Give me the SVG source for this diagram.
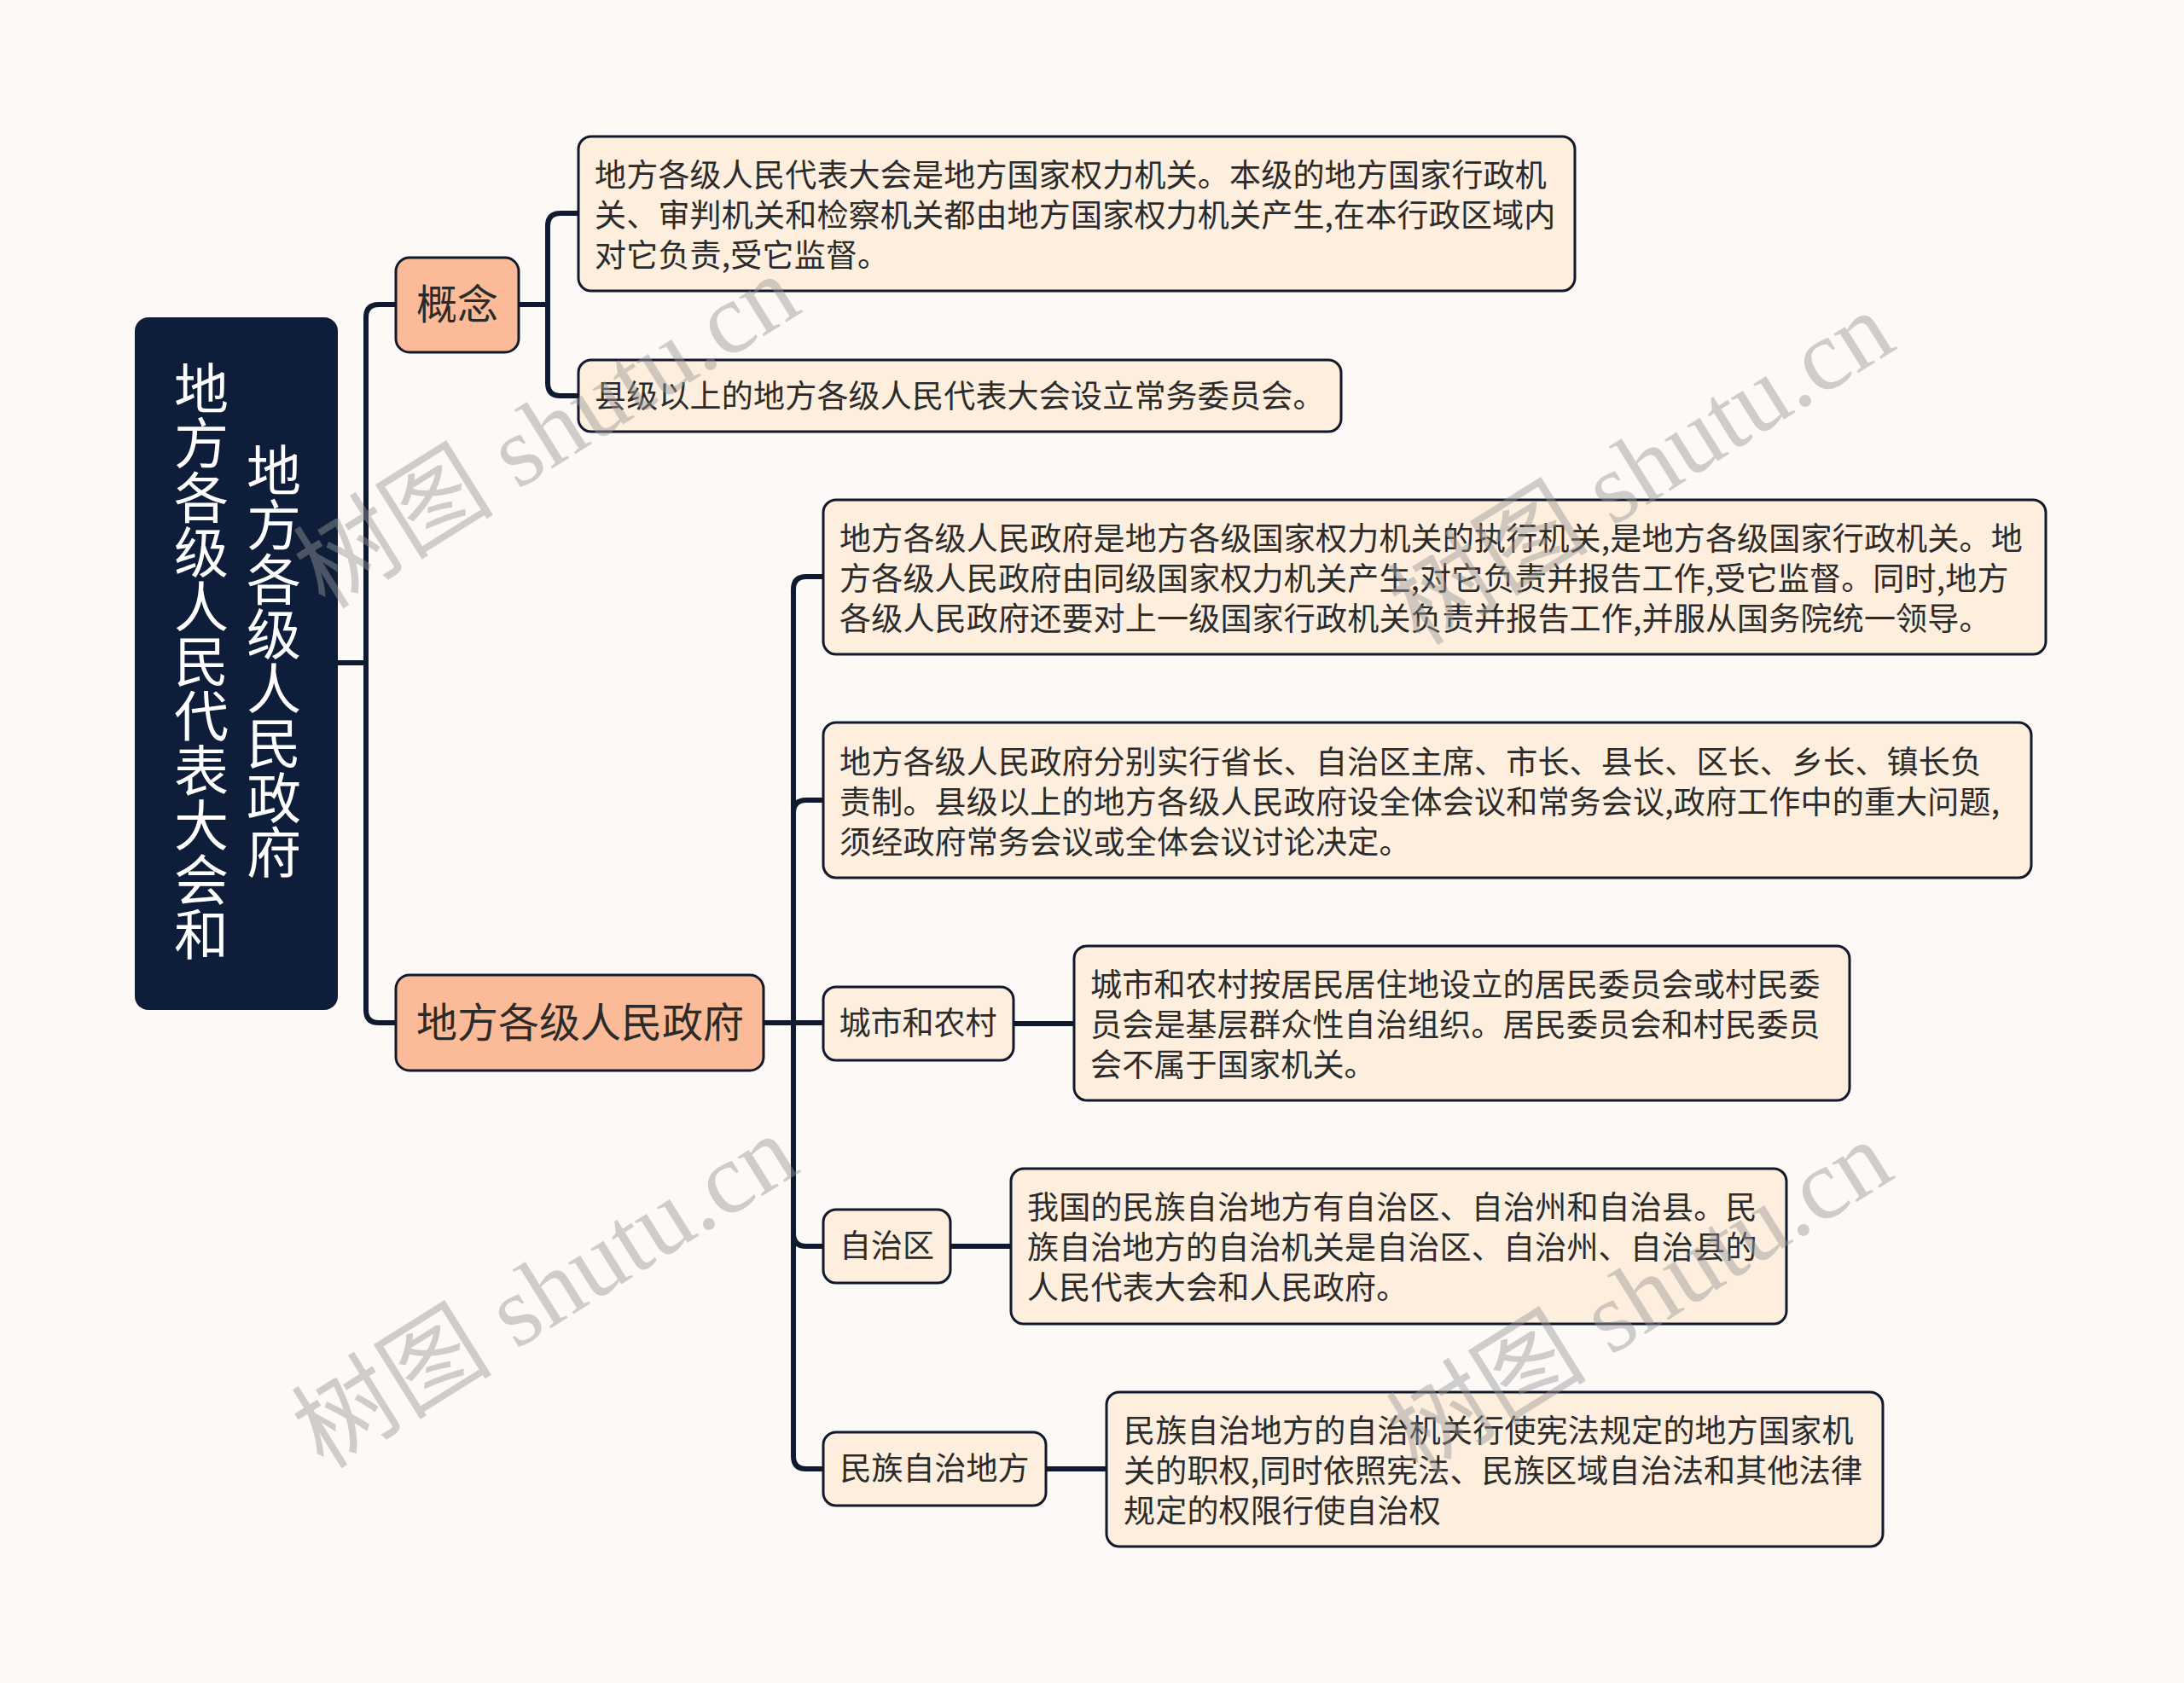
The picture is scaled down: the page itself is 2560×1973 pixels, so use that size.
<svg xmlns="http://www.w3.org/2000/svg" width="2560" height="1973" viewBox="0 0 2560 1973">
<style>
.bg{fill:#fdf9f7}
.root{fill:#0e1e3a}
.rt{fill:#ffffff;font-family:"Noto Sans CJK SC","Noto Sans",sans-serif;font-size:64px;writing-mode:vertical-lr;text-anchor:middle}
.l1{fill:#fbbb98;stroke:#111a2c;stroke-width:3}
.l2{fill:#fdeedd;stroke:#111a2c;stroke-width:3}
.t1{fill:#2b2b2b;font-family:"Noto Sans CJK SC","Noto Sans",sans-serif;font-size:48px;text-anchor:middle}
.t2{fill:#2b2b2b;font-family:"Noto Sans CJK SC","Noto Sans",sans-serif;font-size:37px;text-anchor:middle}
.tl{fill:#2b2b2b;font-family:"Noto Sans CJK SC","Noto Sans",sans-serif;font-size:37px;letter-spacing:0.2px}
.c{fill:none;stroke:#0f1a2e;stroke-width:6;stroke-linejoin:round}
.wm{fill:#999999;opacity:0.45;font-family:"Liberation Serif","Noto Sans CJK SC",serif;font-size:118px;text-anchor:middle}
</style>
<rect class="bg" x="0" y="0" width="2560" height="1973"/>

<g id="connectors">
<path class="c" d="M396,777 H429"/>
<path class="c" d="M429,777 V372 Q429,357 444,357 H464"/>
<path class="c" d="M429,777 V1184 Q429,1199 444,1199 H464"/>
<path class="c" d="M608,357 H642"/>
<path class="c" d="M642,357 V265 Q642,250 657,250 H678"/>
<path class="c" d="M642,357 V449 Q642,464 657,464 H678"/>
<path class="c" d="M895,1199 H965"/>
<path class="c" d="M930,1199 V691 Q930,676 945,676 H965"/>
<path class="c" d="M930,1199 V953 Q930,938 945,938 H965"/>
<path class="c" d="M930,1199 V1446 Q930,1461 945,1461 H965"/>
<path class="c" d="M930,1199 V1707 Q930,1722 945,1722 H965"/>
<path class="c" d="M1188,1200 H1259"/>
<path class="c" d="M1114,1461 H1185"/>
<path class="c" d="M1226,1722 H1297"/>
</g>

<g id="root">
<rect class="root" x="158" y="372" width="238" height="812" rx="16"/>
<text class="rt" x="236" y="775">地方各级人民代表大会和</text>
<text class="rt" x="321" y="775">地方各级人民政府</text>
</g>

<g id="n-concept">
<rect class="l1" x="464" y="302" width="144" height="111" rx="16"/>
<text class="t1" x="536" y="374">概念</text>
</g>

<g id="n-gov">
<rect class="l1" x="464" y="1143" width="431" height="112" rx="16"/>
<text class="t1" x="680" y="1216">地方各级人民政府</text>
</g>

<g id="n-c1">
<rect class="l2" x="678" y="160" width="1168" height="181" rx="15"/>
<text class="tl" x="697" y="219">地方各级人民代表大会是地方国家权力机关。本级的地方国家行政机</text>
<text class="tl" x="697" y="266">关、审判机关和检察机关都由地方国家权力机关产生,在本行政区域内</text>
<text class="tl" x="697" y="313">对它负责,受它监督。</text>
</g>

<g id="n-c2">
<rect class="l2" x="678" y="422" width="894" height="84" rx="15"/>
<text class="tl" x="697" y="478">县级以上的地方各级人民代表大会设立常务委员会。</text>
</g>

<g id="n-g1">
<rect class="l2" x="965" y="586" width="1433" height="181" rx="15"/>
<text class="tl" x="984" y="645">地方各级人民政府是地方各级国家权力机关的执行机关,是地方各级国家行政机关。地</text>
<text class="tl" x="984" y="692">方各级人民政府由同级国家权力机关产生,对它负责并报告工作,受它监督。同时,地方</text>
<text class="tl" x="984" y="739">各级人民政府还要对上一级国家行政机关负责并报告工作,并服从国务院统一领导。</text>
</g>

<g id="n-g2">
<rect class="l2" x="965" y="847" width="1416" height="182" rx="15"/>
<text class="tl" x="984" y="907">地方各级人民政府分别实行省长、自治区主席、市长、县长、区长、乡长、镇长负</text>
<text class="tl" x="984" y="954">责制。县级以上的地方各级人民政府设全体会议和常务会议,政府工作中的重大问题,</text>
<text class="tl" x="984" y="1001">须经政府常务会议或全体会议讨论决定。</text>
</g>

<g id="n-g3">
<rect class="l2" x="965" y="1157" width="223" height="86" rx="15"/>
<text class="t2" x="1076" y="1213">城市和农村</text>
</g>

<g id="n-g3a">
<rect class="l2" x="1259" y="1109" width="909" height="181" rx="15"/>
<text class="tl" x="1278" y="1168">城市和农村按居民居住地设立的居民委员会或村民委</text>
<text class="tl" x="1278" y="1215">员会是基层群众性自治组织。居民委员会和村民委员</text>
<text class="tl" x="1278" y="1262">会不属于国家机关。</text>
</g>

<g id="n-g4">
<rect class="l2" x="965" y="1418" width="149" height="86" rx="15"/>
<text class="t2" x="1039.5" y="1474">自治区</text>
</g>

<g id="n-g4a">
<rect class="l2" x="1185" y="1370" width="909" height="182" rx="15"/>
<text class="tl" x="1204" y="1429">我国的民族自治地方有自治区、自治州和自治县。民</text>
<text class="tl" x="1204" y="1476">族自治地方的自治机关是自治区、自治州、自治县的</text>
<text class="tl" x="1204" y="1523">人民代表大会和人民政府。</text>
</g>

<g id="n-g5">
<rect class="l2" x="965" y="1679" width="261" height="86" rx="15"/>
<text class="t2" x="1095.5" y="1735">民族自治地方</text>
</g>

<g id="n-g5a">
<rect class="l2" x="1297" y="1632" width="910" height="181" rx="15"/>
<text class="tl" x="1317" y="1691">民族自治地方的自治机关行使宪法规定的地方国家机</text>
<text class="tl" x="1317" y="1738">关的职权,同时依照宪法、民族区域自治法和其他法律</text>
<text class="tl" x="1317" y="1785">规定的权限行使自治权</text>
</g>

<g id="watermarks">
<text class="wm" transform="translate(662,540) rotate(-32)">树图 shutu.cn</text>
<text class="wm" transform="translate(1945,583) rotate(-32)">树图 shutu.cn</text>
<text class="wm" transform="translate(660,1548) rotate(-32)">树图 shutu.cn</text>
<text class="wm" transform="translate(1943,1555) rotate(-32)">树图 shutu.cn</text>
</g>
</svg>
